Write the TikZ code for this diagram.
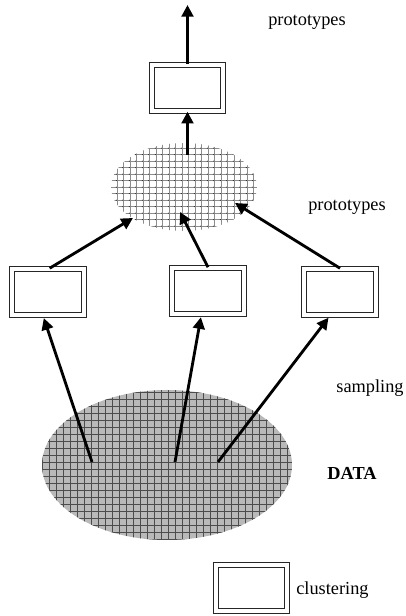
\documentclass[tikz,border=0pt]{standalone}
\usepackage{fontspec}
\setmainfont{Liberation Serif}
\usetikzlibrary{arrows.meta,shapes.geometric}
\tikzset{
  link/.style={
    line width=1.7pt,
    -{Triangle[length=7pt,width=7pt]}
  },
  cluster-box/.style={
    rectangle,
    draw=black!85,
    line width=0.6pt,
    double,
    double distance=2.4pt,
    minimum width=42.9pt,
    minimum height=27.9pt,
    inner sep=0pt
  },
  proto-cloud/.style={ellipse, minimum width=87.6pt, minimum height=52.8pt, inner sep=0pt},
  data-cloud/.style={ellipse, minimum width=150pt, minimum height=90pt, inner sep=0pt, fill=gray!55},
  grid-light/.style={draw=black!45, line width=0.25pt},
  grid-dark/.style={draw=black!70, line width=0.35pt},
  caption/.style={font=\fontsize{11}{13}\selectfont, inner sep=0pt}
}
\newcommand{\pageframe}{
  \useasboundingbox (0,0) rectangle (406,616);
}

\begin{document}
\begin{tikzpicture}[x=0.6pt,y=0.6pt]
  \pageframe
  % Clouds
  \node[data-cloud] (data) at (167,151) {};
  \node[proto-cloud] (proto) at (184,429) {};
  \begin{scope}
    \clip (proto.center) ellipse [x radius=43.8pt, y radius=26.4pt];
    \draw[grid-light] (100,380) grid[step=3.9pt] (270,480);
    \foreach \i in {0,...,26}
      \foreach \j in {0,...,15}
        \fill[black] (103.25+6.5*\i,383.25+6.5*\j) circle[radius=0.3pt];
  \end{scope}
  \begin{scope}
    \clip (data.center) ellipse [x radius=75pt, y radius=45pt];
    \draw[grid-dark] (30,60) grid[step=4.2pt] (300,240);
  \end{scope}
  % Boxes
  \node[cluster-box] (top) at (187.5,528) {};
  \node[cluster-box] (left) at (48,324) {};
  \node[cluster-box] (mid) at (208,325) {};
  \node[cluster-box] (right) at (340,324) {};
  \node[cluster-box] (key) at (251.5,28) {};
  % Points
  \coordinate (out) at (187.5,611);
  \coordinate (p0) at (187.5,461);
  \coordinate (p1) at (133,398);
  \coordinate (p2) at (180,404);
  \coordinate (p3) at (235,413);
  \coordinate (s1) at (92,154);
  \coordinate (s2) at (175,154);
  \coordinate (s3) at (218,154);
  % Edges
  \draw[link] (top.north) -- (out);
  \draw[link] (p0) -- (top.south);
  \draw[link] ([xshift=1pt]left.north) -- (p1);
  \draw[link] (mid.north) -- (p2);
  \draw[link] (right.north) -- (p3);
  \draw[link, shorten >=1.5pt] (s1) -- ([xshift=-3pt]left.south);
  \draw[link, shorten >=1.5pt] (s2) -- ([xshift=-4pt]mid.south);
  \draw[link, shorten >=1.5pt] (s3) -- ([xshift=-6pt]right.south);
  % Labels
  \node[caption] (t1) at (307,594) {prototypes};
  \node[caption] (t2) at (347,409) {prototypes};
  \node[caption] (t3) at (370,228) {sampling};
  \node[caption, font=\fontsize{11}{13}\selectfont\bfseries] (t4) at (352,143) {DATA};
  \node[caption, anchor=west] (t5) at (296,26) {clustering};
\end{tikzpicture}
\end{document}
